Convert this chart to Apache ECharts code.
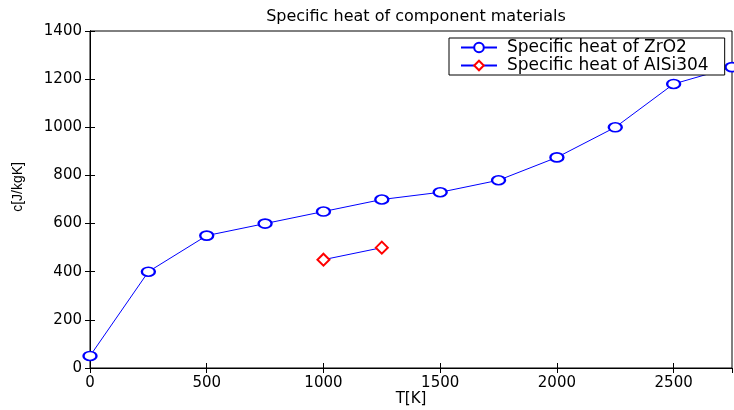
<!DOCTYPE html>
<html>
<head>
<meta charset="utf-8">
<script src="https://cdn.jsdelivr.net/npm/echarts@6/dist/echarts.min.js"></script>
<style>html,body{margin:0;padding:0;background:#fff}#c{width:734px;height:410px}</style>
</head>
<body>
<div id="c"></div>
<script>
const temps = [0, 250, 500, 750, 1000, 1250, 1500, 1750, 2000, 2250, 2500, 2750];
const zro2 = [50, 400, 550, 600, 650, 700, 730, 780, 875, 1000, 1180, 1250];
const aisiTemps = [1000, 1250];
const aisi = [450, 500];
const titleText = 'Specific heat of component materials';
const xName = 'T[K]';
const yName = 'c[J/kgK]';
const nameZrO2 = 'Specific heat of ZrO2';
const nameAisi = 'Specific heat of AISi304';

const F = 'DejaVu Sans';
const chart = echarts.init(document.getElementById('c'), null, {renderer: 'canvas'});
const xCommon = {type: 'value', min: 0, max: 2750, interval: 500, splitLine: {show: false}};
const yCommon = {type: 'value', min: 0, max: 1400, interval: 200, splitLine: {show: false}};
const plain = v => String(v);
chart.setOption({
  animation: false,
  backgroundColor: '#fff',
  title: {text: titleText, left: 411, textAlign: 'center', top: 4,
    textStyle: {fontFamily: F, fontSize: 16, fontWeight: 'normal', color: '#000'}},
  grid: {left: 90, right: 2, top: 31, bottom: 42, containLabel: false, outerBoundsMode: 'none',
    show: true, borderColor: '#000', borderWidth: 1, backgroundColor: '#fff'},
  legend: {
    left: 449, top: 38, orient: 'vertical', itemWidth: 36, itemHeight: 12, itemGap: 1,
    padding: [1, 16, 1, 11], borderColor: '#000', borderWidth: 1, backgroundColor: '#fff',
    textStyle: {fontFamily: F, fontSize: 17, color: '#000', padding: [0, 0, 0, 5]},
    data: [nameZrO2, nameAisi]
  },
  graphic: [{type: 'text', left: 11, top: 162, rotation: Math.PI / 2,
    style: {text: yName, fontFamily: 'Liberation Sans', fontSize: 14, fill: '#000'}}],
  xAxis: [
    Object.assign({}, xCommon, {position: 'bottom', name: xName, nameLocation: 'middle', nameGap: 24,
      nameMoveOverlap: false,
      nameTextStyle: {fontFamily: F, fontSize: 15, color: '#000'},
      axisLine: {lineStyle: {color: '#000'}}, axisTick: {inside: true, length: 5, lineStyle: {color: '#000'}},
      axisLabel: {fontFamily: F, fontSize: 15, color: '#000', margin: 8, showMaxLabel: false, formatter: plain}}),
    Object.assign({}, xCommon, {position: 'top',
      axisLine: {lineStyle: {color: '#000'}}, axisTick: {inside: true, length: 5, lineStyle: {color: '#000'}},
      axisLabel: {show: false}})
  ],
  yAxis: [
    Object.assign({}, yCommon, {position: 'left',
      axisLine: {show: true, lineStyle: {color: '#000'}}, axisTick: {show: true, inside: true, length: 5, lineStyle: {color: '#000'}},
      axisLabel: {fontFamily: F, fontSize: 15, color: '#000', margin: 8, formatter: plain}}),
    Object.assign({}, yCommon, {position: 'right',
      axisLine: {show: true, lineStyle: {color: '#000'}}, axisTick: {show: true, inside: true, length: 5, lineStyle: {color: '#000'}},
      axisLabel: {show: false}})
  ],
  series: [
    {name: nameZrO2, type: 'line', xAxisIndex: 0, yAxisIndex: 0,
      data: temps.map((t, i) => [t, zro2[i]]),
      symbol: 'emptyCircle', symbolSize: [13, 9], showAllSymbol: true,
      lineStyle: {color: '#0000ff', width: 1}, itemStyle: {color: '#0000ff', borderColor: '#0000ff', borderWidth: 1}},
    {name: nameAisi, type: 'line', xAxisIndex: 0, yAxisIndex: 0,
      data: aisiTemps.map((t, i) => [t, aisi[i]]),
      symbol: 'emptyDiamond', symbolSize: [12, 12],
      lineStyle: {color: '#0000ff', width: 1}, itemStyle: {color: '#ff0000', borderColor: '#ff0000', borderWidth: 1}}
  ]
});
</script>
</body>
</html>
